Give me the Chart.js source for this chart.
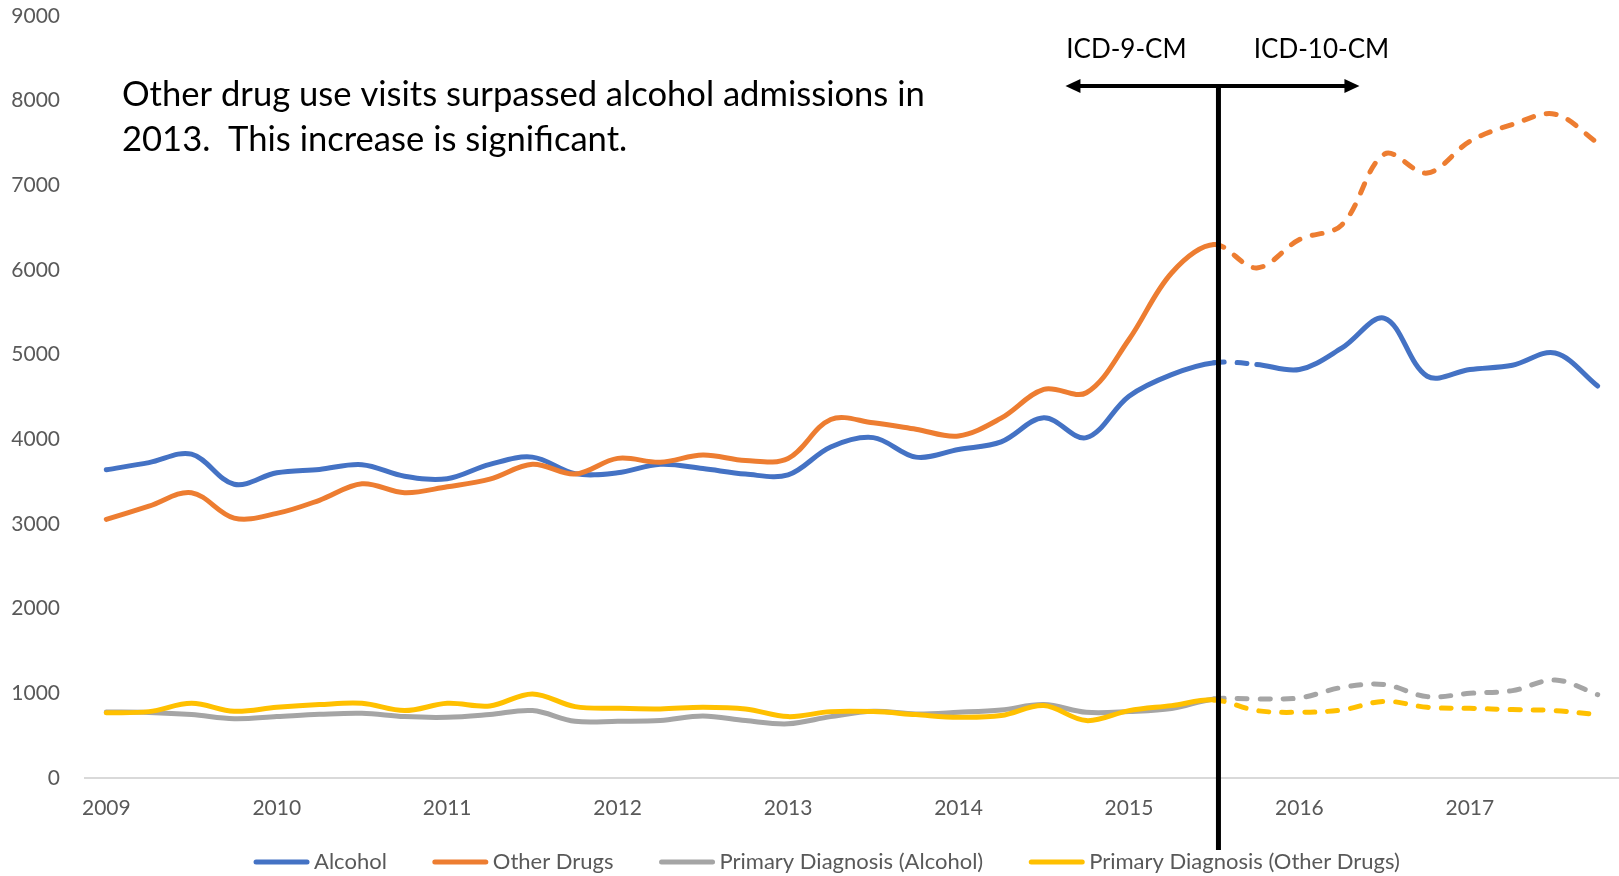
<!DOCTYPE html>
<html>
<head>
<meta charset="utf-8">
<script src="https://cdn.jsdelivr.net/npm/chart.js@4.4.1/dist/chart.umd.min.js"></script>
<style>
  html, body { margin: 0; padding: 0; background: #fff; }
  #wrap { width: 1619px; height: 876px; }
</style>
</head>
<body>
<div id="wrap"><canvas id="chart"></canvas></div>
<script>
// -------------------------------
// DATA
// -------------------------------
const years = ['2009', '2010', '2011', '2012', '2013', '2014', '2015', '2016', '2017'];
const quarters = ['Q1', 'Q2', 'Q3', 'Q4'];
const categories = years.flatMap(y => quarters.map(q => y + ' ' + q));
const yTicks = [0, 1000, 2000, 3000, 4000, 5000, 6000, 7000, 8000, 9000];

const seriesNames = ['Alcohol', 'Other Drugs', 'Primary Diagnosis (Alcohol)', 'Primary Diagnosis (Other Drugs)'];

const alcohol = [3640, 3725, 3825, 3470, 3605, 3645, 3700, 3565, 3535, 3705, 3790, 3595,
                 3605, 3705, 3655, 3590, 3580, 3910, 4020, 3790, 3880, 3970, 4255, 4020,
                 4510, 4765, 4905, 4885, 4825, 5080, 5430, 4745, 4825, 4875, 5020, 4630];
const otherDrugs = [3055, 3210, 3370, 3070, 3125, 3280, 3475, 3370, 3440, 3530, 3705, 3590,
                    3775, 3730, 3815, 3750, 3775, 4235, 4195, 4120, 4040, 4250, 4590, 4550,
                    5180, 5965, 6300, 6025, 6360, 6535, 7370, 7145, 7520, 7720, 7840, 7500];
const primaryAlcohol = [780, 775, 750, 700, 725, 752, 765, 725, 717, 750, 796, 670,
                        670, 678, 733, 678, 640, 725, 788, 757, 776, 804, 867, 776,
                        785, 820, 934, 934, 946, 1070, 1103, 961, 1000, 1032, 1158, 985];
const primaryOther = [770, 784, 882, 788, 835, 867, 882, 796, 882, 851, 993, 843,
                      823, 816, 835, 816, 725, 784, 784, 749, 717, 737, 855, 678,
                      796, 855, 922, 796, 776, 804, 906, 835, 823, 808, 796, 749];

// last ICD-9-CM quarter (2015 Q3)
const transitionIndex = 26;

const noteLines = ['Other drug use visits surpassed alcohol admissions in', '2013.  This increase is significant.'];
const codingLabels = ['ICD-9-CM', 'ICD-10-CM'];

// -------------------------------
// STYLE
// -------------------------------
const colors = ['#4472C4', '#ED7D31', '#A5A5A5', '#FFC000'];
const DASH = [10, 13];
const FONT = 'Lato';
Chart.defaults.font.family = FONT;

const dashAfter = ctx => ctx.p0DataIndex >= transitionIndex ? DASH : undefined;
const dashGap = ctx => ctx.p0DataIndex === transitionIndex ? DASH : undefined;

function lineSet(label, data, color, order, dashFn) {
    return {
        label,
        data,
        borderColor: color,
        backgroundColor: color,
        borderWidth: 5,
        borderCapStyle: 'round',
        borderJoinStyle: 'round',
        pointRadius: 0,
        tension: 0.35,
        order,
        segment: { borderDash: dashFn }
    };
}

// ICD annotation + divider
const overlay = {
    id: 'overlay',
    afterDraw(chart) {
        const { ctx, scales: { x } } = chart;
        const lx = x.getPixelForValue(transitionIndex + 0.1);
        ctx.save();
        ctx.fillStyle = '#000';
        ctx.textBaseline = 'alphabetic';

        ctx.font = '34.6px ' + FONT;
        ctx.textAlign = 'left';
        ctx.fillText(noteLines[0], 122, 106);
        ctx.fillText(noteLines[1], 122, 151);

        ctx.font = '26px ' + FONT;
        ctx.textAlign = 'center';
        ctx.fillText(codingLabels[0], lx - 92, 58);
        ctx.fillText(codingLabels[1], lx + 103, 58);

        const ay = 86;
        ctx.strokeStyle = '#000';
        ctx.lineWidth = 4;
        ctx.beginPath();
        ctx.moveTo(lx - 140, ay);
        ctx.lineTo(lx + 128, ay);
        ctx.stroke();

        ctx.beginPath();
        ctx.moveTo(lx + 141, ay);
        ctx.lineTo(lx + 126, ay - 7);
        ctx.lineTo(lx + 126, ay + 7);
        ctx.closePath();
        ctx.fill();
        ctx.beginPath();
        ctx.moveTo(lx - 153, ay);
        ctx.lineTo(lx - 138, ay - 7);
        ctx.lineTo(lx - 138, ay + 7);
        ctx.closePath();
        ctx.fill();

        ctx.lineWidth = 5;
        ctx.beginPath();
        ctx.moveTo(lx, ay - 2);
        ctx.lineTo(lx, 850);
        ctx.stroke();
        ctx.restore();
    }
};

// bottom legend (line samples)
const lineLegend = {
    id: 'lineLegend',
    afterDraw(chart) {
        const { ctx } = chart;
        const y = 862, sample = 55, gapText = 5, gapItem = 46;
        ctx.save();
        ctx.font = '22px ' + FONT;
        ctx.textBaseline = 'middle';
        ctx.textAlign = 'left';
        const widths = seriesNames.map(n => ctx.measureText(n).width);
        const total = widths.reduce((a, w) => a + sample + gapText + w, 0) + gapItem * (seriesNames.length - 1);
        let x = 827 - total / 2;
        seriesNames.forEach((n, i) => {
            ctx.strokeStyle = colors[i];
            ctx.lineWidth = 5;
            ctx.lineCap = 'round';
            ctx.beginPath();
            ctx.moveTo(x + 2, y);
            ctx.lineTo(x + sample - 2, y);
            ctx.stroke();
            ctx.fillStyle = '#595959';
            ctx.fillText(n, x + sample + gapText, y);
            x += sample + gapText + widths[i] + gapItem;
        });
        ctx.restore();
    }
};

new Chart(document.getElementById('chart'), {
    type: 'line',
    data: {
        labels: categories,
        datasets: [
            lineSet(seriesNames[0], alcohol, colors[0], 3, dashGap),
            lineSet(seriesNames[1], otherDrugs, colors[1], 2, dashAfter),
            lineSet(seriesNames[2], primaryAlcohol, colors[2], 1, dashAfter),
            lineSet(seriesNames[3], primaryOther, colors[3], 0, dashAfter)
        ]
    },
    plugins: [overlay, lineLegend],
    options: {
        responsive: true,
        maintainAspectRatio: false,
        animation: false,
        layout: { padding: { top: 16, right: 0, left: 0, bottom: 0 } },
        plugins: {
            legend: { display: false },
            tooltip: { enabled: false }
        },
        scales: {
            x: {
                offset: true,
                grid: { display: true, drawOnChartArea: false, drawTicks: false },
                border: { display: true, color: '#D9D9D9', width: 2 },
                ticks: {
                    autoSkip: false,
                    maxRotation: 0,
                    padding: 18,
                    color: '#595959',
                    font: { size: 21 },
                    callback: (v, i) => i % 4 === 0 ? years[i / 4] : ''
                },
                afterFit: s => {
                    s.height = 98;
                    s.paddingLeft = 0;
                    s.paddingRight = 0;
                }
            },
            y: {
                min: 0,
                max: 9000,
                grid: { display: false, drawTicks: false },
                border: { display: false },
                afterBuildTicks: s => { s.ticks = yTicks.map(v => ({ value: v })); },
                ticks: {
                    padding: 25,
                    color: '#595959',
                    font: { size: 21 },
                    callback: v => String(v)
                },
                afterFit: s => {
                    s.width = 85;
                    s.paddingTop = 0;
                    s.paddingBottom = 0;
                }
            }
        }
    }
});
</script>
</body>
</html>
